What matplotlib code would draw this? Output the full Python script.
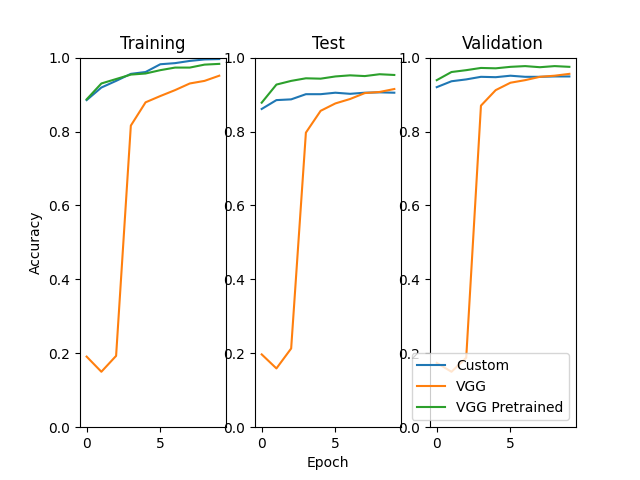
import matplotlib
matplotlib.use("Agg")
import matplotlib.pyplot as plt

epochs = list(range(10))

# accuracy per epoch
train_custom = [0.885, 0.919, 0.937, 0.956, 0.961, 0.982, 0.985, 0.991, 0.995, 0.996]
train_vgg = [0.191, 0.150, 0.193, 0.816, 0.879, 0.896, 0.912, 0.930, 0.937, 0.951]
train_pre = [0.887, 0.930, 0.942, 0.954, 0.957, 0.966, 0.973, 0.973, 0.981, 0.983]

test_custom = [0.861, 0.885, 0.887, 0.901, 0.901, 0.905, 0.902, 0.905, 0.906, 0.905]
test_vgg = [0.197, 0.159, 0.213, 0.797, 0.856, 0.876, 0.888, 0.904, 0.907, 0.915]
test_pre = [0.878, 0.927, 0.937, 0.944, 0.943, 0.949, 0.952, 0.950, 0.955, 0.953]

val_custom = [0.920, 0.936, 0.941, 0.948, 0.947, 0.951, 0.948, 0.948, 0.949, 0.949]
val_vgg = [0.174, 0.150, 0.188, 0.870, 0.912, 0.932, 0.939, 0.948, 0.951, 0.956]
val_pre = [0.939, 0.961, 0.966, 0.972, 0.971, 0.975, 0.977, 0.974, 0.977, 0.975]

titles = ["Training", "Test", "Validation"]
labels = ["Custom", "VGG", "VGG Pretrained"]

fig, axes = plt.subplots(1, 3, figsize=(6.4, 4.8), dpi=100)

panels = [
    (train_custom, train_vgg, train_pre),
    (test_custom, test_vgg, test_pre),
    (val_custom, val_vgg, val_pre),
]

for ax, title, series in zip(axes, titles, panels):
    for values, label in zip(series, labels):
        ax.plot(epochs, values, label=label)
    ax.set_title(title)
    ax.set_ylim(0, 1)

axes[0].set_ylabel("Accuracy")
axes[1].set_xlabel("Epoch")
axes[2].legend(loc="lower right")

fig.savefig("out.png")
